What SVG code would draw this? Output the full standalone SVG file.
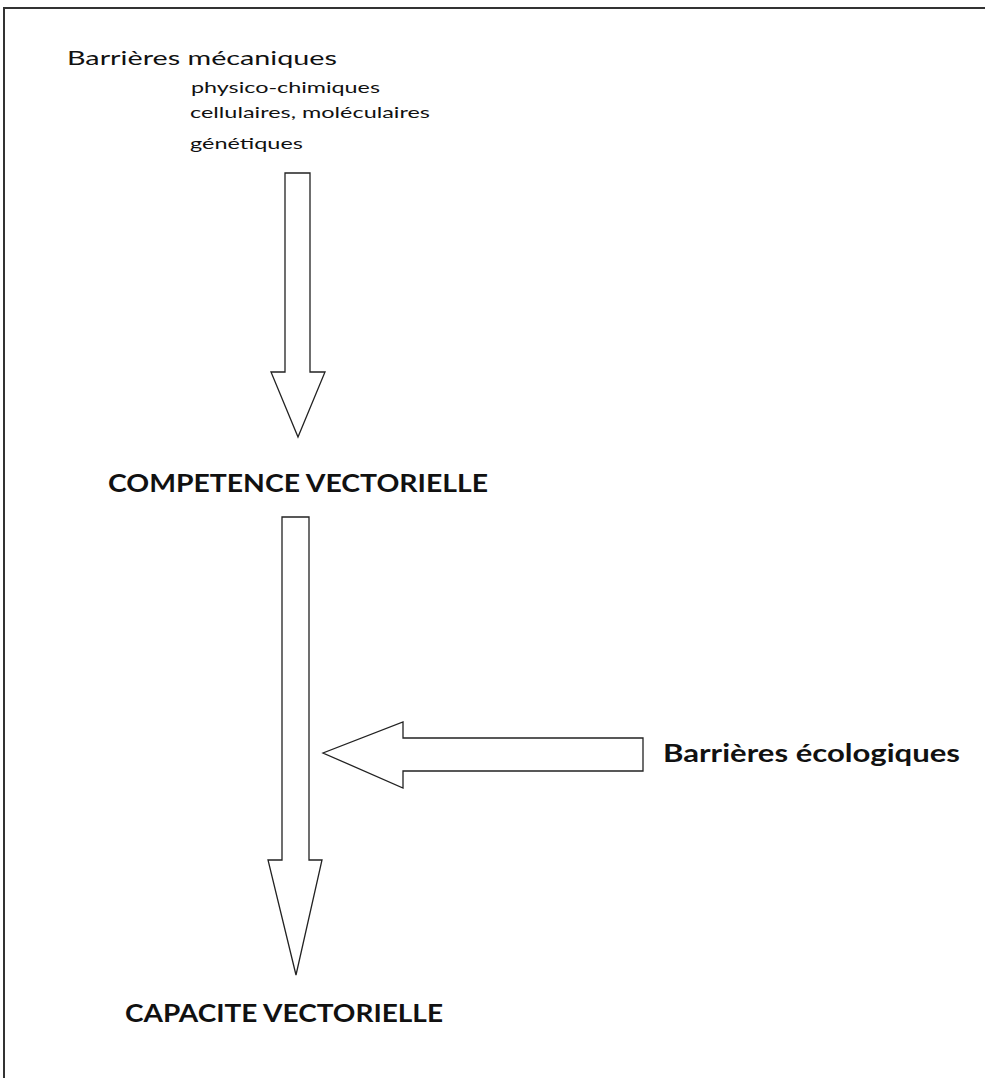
<svg xmlns="http://www.w3.org/2000/svg" width="985" height="1078" viewBox="0 0 985 1078">
<style>
.t{font-family:Lato,"Open Sans","Liberation Sans",sans-serif;fill:#111;}
.b{font-weight:bold;}
.ar{fill:#fff;stroke:#222;stroke-width:1.3;stroke-linejoin:miter;}
.fr{fill:none;stroke:#333;stroke-width:2;}
</style>
<rect width="985" height="1078" fill="#fff"/>
<path class="fr" d="M4,1078 V8 H985"/>
<g id="barrieres-mecaniques">
<text class="t" x="67" y="65" font-size="19" textLength="270" lengthAdjust="spacingAndGlyphs">Barrières mécaniques</text>
<text class="t" x="191" y="93" font-size="16" textLength="189" lengthAdjust="spacingAndGlyphs">physico-chimiques</text>
<text class="t" x="190" y="118" font-size="16" textLength="240" lengthAdjust="spacingAndGlyphs">cellulaires, moléculaires</text>
<text class="t" x="190" y="149" font-size="16" textLength="113" lengthAdjust="spacingAndGlyphs">génétiques</text>
</g>
<g id="competence">
<text class="t b" x="108" y="492" font-size="25" textLength="380" lengthAdjust="spacingAndGlyphs">COMPETENCE VECTORIELLE</text>
</g>
<g id="capacite">
<text class="t b" x="125" y="1022" font-size="25" textLength="318" lengthAdjust="spacingAndGlyphs">CAPACITE VECTORIELLE</text>
</g>
<g id="barrieres-ecologiques">
<text class="t b" x="663" y="762" font-size="25" textLength="297" lengthAdjust="spacingAndGlyphs">Barrières écologiques</text>
</g>
<g id="connectors">
<polygon class="ar" points="285,173 310,173 310,372 325,372 298,437 271,372 285,372"/>
<polygon class="ar" points="282,517 309,517 309,860 322,860 296,975 268,860 282,860"/>
<polygon class="ar" points="643,738 643,771 403,771 403,788 323,753 403,722 403,738"/>
</g>
</svg>
